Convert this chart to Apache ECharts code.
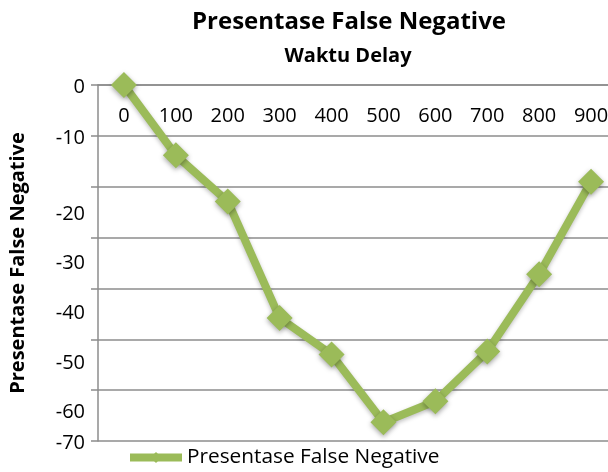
<!DOCTYPE html>
<html>
<head>
<meta charset="utf-8">
<script src="https://cdn.jsdelivr.net/npm/echarts@6/dist/echarts.min.js"></script>
<style>html,body{margin:0;padding:0;background:#fff;overflow:hidden;width:608px;height:472px}#c{width:620px;height:472px}</style>
</head>
<body>
<div id="c"></div>
<script>
const categories = ['0','100','200','300','400','500','600','700','800','900'];
const values = [0, -13.8, -22.9, -45.8, -53.0, -66.3, -62.2, -52.4, -37.2, -19.0];
const seriesName = 'Presentase False Negative';
const titleText = 'Presentase False Negative';
const subtitleText = 'Waktu Delay';
const yAxisName = 'Presentase False Negative';

const FONT = 'Open Sans';
const GREEN = '#9BBB59';
const GRID = '#8c8c8c';
// vertical label shift (px) per tick value, mimicking the reference's label placement
const labelShift = {'0':2,'-10':2,'-20':28,'-30':26,'-40':25,'-50':24,'-60':22,'-70':2};
const rich = {};
Object.keys(labelShift).forEach((k, i) => {
  rich['s' + i] = {padding: [labelShift[k] * 2, 0, 0, 0], fontFamily: FONT, fontSize: 20, color: '#000'};
});
const keyIdx = {};
Object.keys(labelShift).forEach((k, i) => keyIdx[k] = i);

const chart = echarts.init(document.getElementById('c'), null, {renderer: 'canvas'});
chart.setOption({
  animation: false,
  backgroundColor: '#fff',
  title: [
    {text: titleText, left: 344, top: 5, textAlign: 'center',
     textStyle: {fontFamily: FONT, fontWeight: 'bold', fontSize: 24, color: '#000'}},
    {text: subtitleText, left: 343, top: 41, textAlign: 'center',
     textStyle: {fontFamily: FONT, fontWeight: 'bold', fontSize: 20, color: '#000'}}
  ],
  legend: {
    data: [seriesName], bottom: -1, left: 121,
    itemWidth: 52, itemHeight: 14, itemGap: 6,
    lineStyle: {width: 8},
    textStyle: {fontFamily: FONT, fontSize: 20.8, color: '#000'}
  },
  grid: {left: 97, width: 520, top: 85, bottom: 31, containLabel: false},
  xAxis: {
    type: 'category', data: categories, position: 'top', boundaryGap: true,
    axisLine: {lineStyle: {color: GRID, width: 1.5}},
    axisTick: {inside: true, length: 8, lineStyle: {color: GRID, width: 1.5}},
    axisLabel: {inside: true, margin: 21, fontFamily: FONT, fontSize: 20, color: '#000'},
    splitLine: {show: false}
  },
  yAxis: {
    type: 'value', min: -70, max: 0, interval: 10,
    name: yAxisName, nameLocation: 'middle', nameGap: 70, nameRotate: 90,
    nameTextStyle: {fontFamily: FONT, fontWeight: 'bold', fontSize: 20, color: '#000'},
    axisLine: {show: true, lineStyle: {color: GRID, width: 1.5}},
    axisTick: {show: true, length: 7, lineStyle: {color: GRID, width: 1.5}},
    axisLabel: {
      margin: 13, fontFamily: FONT, fontSize: 20, color: '#000',
      formatter: v => '{s' + keyIdx[String(v)] + '|' + v + '}', rich: rich
    },
    splitLine: {show: true, lineStyle: {color: GRID, width: 1.5}}
  },
  series: [{
    name: seriesName, type: 'line', data: values,
    symbol: 'diamond', symbolSize: 26,
    lineStyle: {color: GREEN, width: 8, shadowColor: 'rgba(0,0,0,0.25)', shadowBlur: 4, shadowOffsetY: 2},
    itemStyle: {color: GREEN, shadowColor: 'rgba(0,0,0,0.35)', shadowBlur: 5, shadowOffsetY: 2},
    emphasis: {disabled: true}
  }]
});
</script>
</body>
</html>
